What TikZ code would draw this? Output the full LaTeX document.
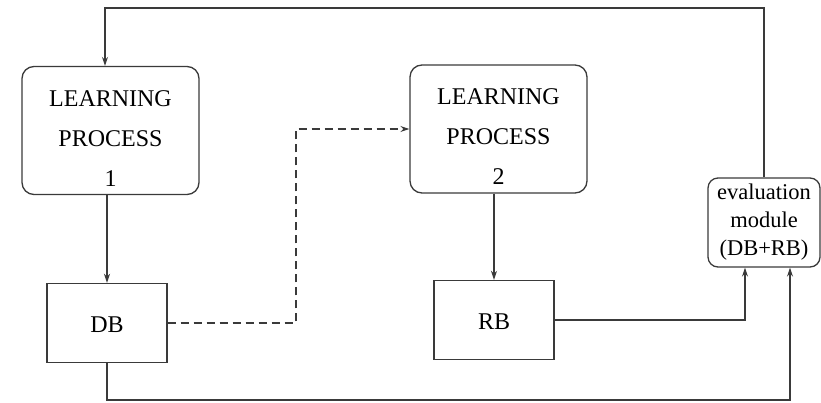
\documentclass[tikz,border=0pt]{standalone}
\usepackage{fontspec}
\setmainfont{Liberation Serif}
\usetikzlibrary{arrows.meta}
\definecolor{ink}{HTML}{3A3A3A}
\begin{document}
\begin{tikzpicture}[x=1pt,y=-1pt,
  lp/.style={draw=ink,line width=1.3pt,rounded corners=12pt,minimum width=177pt,minimum height=128pt,align=center,font=\fontsize{24}{40}\selectfont,inner sep=0pt},
  dbox/.style={draw=ink,line width=1.4pt,minimum width=120pt,minimum height=79pt,font=\fontsize{24}{28}\selectfont,inner sep=0pt},
  evbox/.style={draw=ink,line width=1.3pt,rounded corners=10pt,minimum width=112pt,minimum height=89pt,align=center,font=\fontsize{22.5}{28}\selectfont,inner sep=0pt},
  conn/.style={draw=ink,line width=1.3pt,-{Stealth[length=9pt,width=6pt]}},
  dconn/.style={conn,dash pattern=on 8pt off 5pt}]
\useasboundingbox (0,0) rectangle (821,402);
\node[lp] (lp1) at (110.5,130.5) {\rule{0pt}{31pt}LEARNING\\PROCESS\\1};
\node[lp] (lp2) at (498.5,129) {\rule{0pt}{31pt}LEARNING\\PROCESS\\2};
\node[dbox] (db) at (107,323) {\rule{0pt}{20pt}DB};
\node[dbox] (rb) at (494,320) {\rule{0pt}{20pt}RB};
\node[evbox] (ev) at (764,222.5) {evaluation\\module\\(DB+RB)};
\coordinate (tl) at (105,8);
\coordinate (dm) at (296,0);
\coordinate (rbx) at (745,0);
\coordinate (bl) at (107,400);
\coordinate (brx) at (790,0);
\draw[conn] (ev.north) |- (tl) -- (lp1.north -| tl);
\draw[conn] (lp1.south -| db.north) -- (db.north);
\draw[dconn] (db.east) -| (dm |- lp2.west) -- (lp2.west);
\draw[conn] (lp2.south -| rb.north) -- (rb.north);
\draw[conn] (rb.east) -| (rbx |- ev.south);
\draw[conn] (db.south) -- (bl) -| (brx |- ev.south);
\end{tikzpicture}
\end{document}
